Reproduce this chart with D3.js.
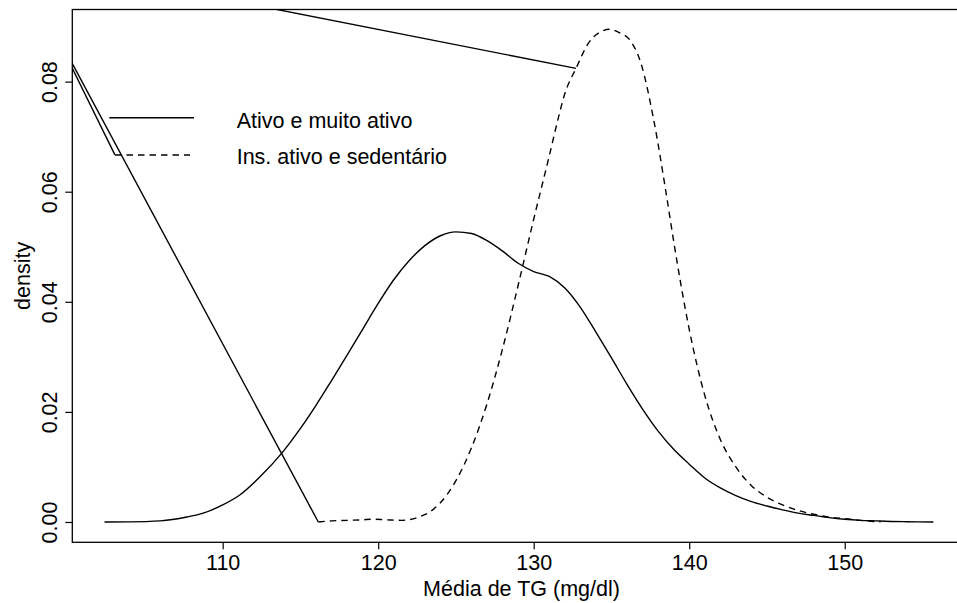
<!DOCTYPE html>
<html>
<head>
<meta charset="utf-8">
<script src="https://cdn.jsdelivr.net/npm/d3@7"></script>
<style>
  html, body { margin: 0; padding: 0; background: #fff; }
  svg { display: block; }
  text { font-family: "Liberation Sans", Arial, Helvetica, sans-serif; fill: #000; }
</style>
</head>
<body>
<svg id="chart" width="957" height="603"></svg>
<script>
// Kernel density estimates of mean TG (mg/dl) by physical-activity group
const seriesNames = ["Ativo e muito ativo", "Ins. ativo e sedentário"];

// Group 1: active / very active (solid)
const ativoX = [102.4, 104, 106, 107.7, 108.75, 110, 111.1, 112.4, 113.8, 115, 116, 117,
  118, 119, 120, 121, 122, 123, 124, 125, 126, 127, 128, 129, 130, 131, 132, 133, 134, 135,
  136, 137, 138, 139, 140, 141, 142, 143, 144, 145, 146, 147, 148, 149, 150, 151, 152, 153, 154, 155.7];
const ativoY = [0, 0.00002, 0.0002, 0.0009, 0.0016, 0.0031, 0.0049, 0.0082, 0.0125, 0.0170, 0.0212, 0.0257,
  0.0303, 0.0350, 0.0397, 0.0440, 0.0475, 0.0502, 0.0520, 0.0527, 0.0524, 0.0511, 0.0492, 0.0470, 0.0455, 0.0446, 0.0425, 0.0390, 0.0345, 0.0298,
  0.0250, 0.0205, 0.0165, 0.0132, 0.0105, 0.0080, 0.0062, 0.0048, 0.0037, 0.0029, 0.0022, 0.0016, 0.0012, 0.0008, 0.0005, 0.0003, 0.0002, 0.0001, 0.00005, 0];

// Group 2: insufficiently active / sedentary (dashed)
const sedentX = [116.15, 117, 118, 119, 119.6, 120.5, 121.5, 122.5, 123.5, 124, 125, 126, 127, 128, 129, 130,
  131, 131.6, 132, 132.72, 133.5, 134.2, 134.9, 135.5, 136.2, 136.9, 137.7, 138.5, 139, 140, 141, 142,
  143, 144, 145, 146, 147, 148, 149, 150, 151, 152.3];
const sedentY = [0, 0.0002, 0.0003, 0.0004, 0.0005, 0.0004, 0.0003, 0.0008, 0.0022, 0.0035, 0.0075, 0.0135, 0.0215, 0.0315, 0.0430, 0.0550,
  0.0665, 0.0736, 0.0778, 0.0824, 0.0869, 0.0889, 0.0895, 0.0889, 0.0875, 0.0833, 0.0733, 0.0600, 0.0510, 0.0350, 0.0230, 0.0150,
  0.0100, 0.0066, 0.0045, 0.0031, 0.0021, 0.0014, 0.0009, 0.0006, 0.0003, 0];

// Stray straight segments drawn over the plot (x1, y1, x2, y2 in data units)
const segFromX = [100.0, 100.33, 110.43];
const segFromY = [0.0850, 0.0824, 0.0948];
const segToX = [116.15, 103.07, 132.72];
const segToY = [0, 0.0667, 0.0824];

// Axis ticks
const xTicks = [110, 120, 130, 140, 150];
const yTicks = [0, 0.02, 0.04, 0.06, 0.08];
const yTickLabels = ["0.00", "0.02", "0.04", "0.06", "0.08"];

const xTitle = "Média de TG (mg/dl)";
const yTitle = "density";

// ---- layout ----
const svg = d3.select("#chart");
const plot = { left: 72.3, right: 970.7, top: 9.5, bottom: 542.3 };

const x = d3.scaleLinear().domain([100.33, 158.1]).range([plot.left, plot.right]);
const y = d3.scaleLinear().domain([-0.00369, 0.0931]).range([plot.bottom, plot.top]);

svg.append("defs").append("clipPath").attr("id", "plotclip")
  .append("rect")
  .attr("x", plot.left).attr("y", plot.top)
  .attr("width", plot.right - plot.left).attr("height", plot.bottom - plot.top);

const fontSize = 21.5;

// X axis
const xAxis = d3.axisBottom(x).tickValues(xTicks).tickSize(7).tickPadding(6).tickFormat(d3.format("d"));
const gx = svg.append("g").attr("transform", `translate(0,${plot.bottom})`).call(xAxis);
gx.select(".domain").remove();
gx.selectAll(".tick line").attr("stroke", "#000").attr("stroke-width", 1.2);
gx.selectAll(".tick text").attr("font-size", fontSize).attr("font-family", null).attr("dy", null).attr("y", 28);

// Y axis with rotated labels
const yAxis = d3.axisLeft(y).tickValues(yTicks).tickSize(7).tickFormat((d, i) => yTickLabels[i]);
const gy = svg.append("g").attr("transform", `translate(${plot.left},0)`).call(yAxis);
gy.select(".domain").remove();
gy.selectAll(".tick line").attr("stroke", "#000").attr("stroke-width", 1.2);
gy.selectAll(".tick text")
  .attr("font-size", fontSize).attr("font-family", null)
  .attr("x", null).attr("dy", null)
  .attr("text-anchor", "middle")
  .attr("transform", "translate(-15,0) rotate(-90)");

// Plot frame
svg.append("rect")
  .attr("x", plot.left).attr("y", plot.top)
  .attr("width", plot.right - plot.left).attr("height", plot.bottom - plot.top)
  .attr("fill", "none").attr("stroke", "#000").attr("stroke-width", 1.3);

// Axis titles
svg.append("text")
  .attr("x", (plot.left + plot.right) / 2).attr("y", 595.5)
  .attr("text-anchor", "middle").attr("font-size", fontSize)
  .text(xTitle);

svg.append("text")
  .attr("transform", `translate(30,${(plot.top + plot.bottom) / 2}) rotate(-90)`)
  .attr("text-anchor", "middle").attr("font-size", fontSize)
  .text(yTitle);

// Density curves
const line = d3.line().x(d => x(d[0])).y(d => y(d[1])).curve(d3.curveMonotoneX);
const g = svg.append("g").attr("clip-path", "url(#plotclip)");

g.append("path")
  .datum(d3.zip(ativoX, ativoY))
  .attr("d", line)
  .attr("fill", "none").attr("stroke", "#000").attr("stroke-width", 1.4);

g.append("path")
  .datum(d3.zip(sedentX, sedentY))
  .attr("d", line)
  .attr("fill", "none").attr("stroke", "#000").attr("stroke-width", 1.4)
  .attr("stroke-dasharray", "6.5,5");

// Straight segments
g.selectAll("line.seg")
  .data(d3.range(segFromX.length))
  .join("line").attr("class", "seg")
  .attr("x1", i => x(segFromX[i])).attr("y1", i => y(segFromY[i]))
  .attr("x2", i => x(segToX[i])).attr("y2", i => y(segToY[i]))
  .attr("stroke", "#000").attr("stroke-width", 1.4);

// Legend
const legend = svg.append("g");
const legendRows = [
  { name: seriesNames[0], x1: 109.3, x2: 194, ly: 117.7, ty: 127.7, dash: null },
  { name: seriesNames[1], x1: 115, x2: 190, ly: 155, ty: 164.3, dash: "6.5,5" }
];
legendRows.forEach(r => {
  legend.append("line")
    .attr("x1", r.x1).attr("x2", r.x2).attr("y1", r.ly).attr("y2", r.ly)
    .attr("stroke", "#000").attr("stroke-width", 1.4)
    .attr("stroke-dasharray", r.dash);
  legend.append("text")
    .attr("x", 236.7).attr("y", r.ty)
    .attr("font-size", fontSize)
    .text(r.name);
});
</script>
</body>
</html>
